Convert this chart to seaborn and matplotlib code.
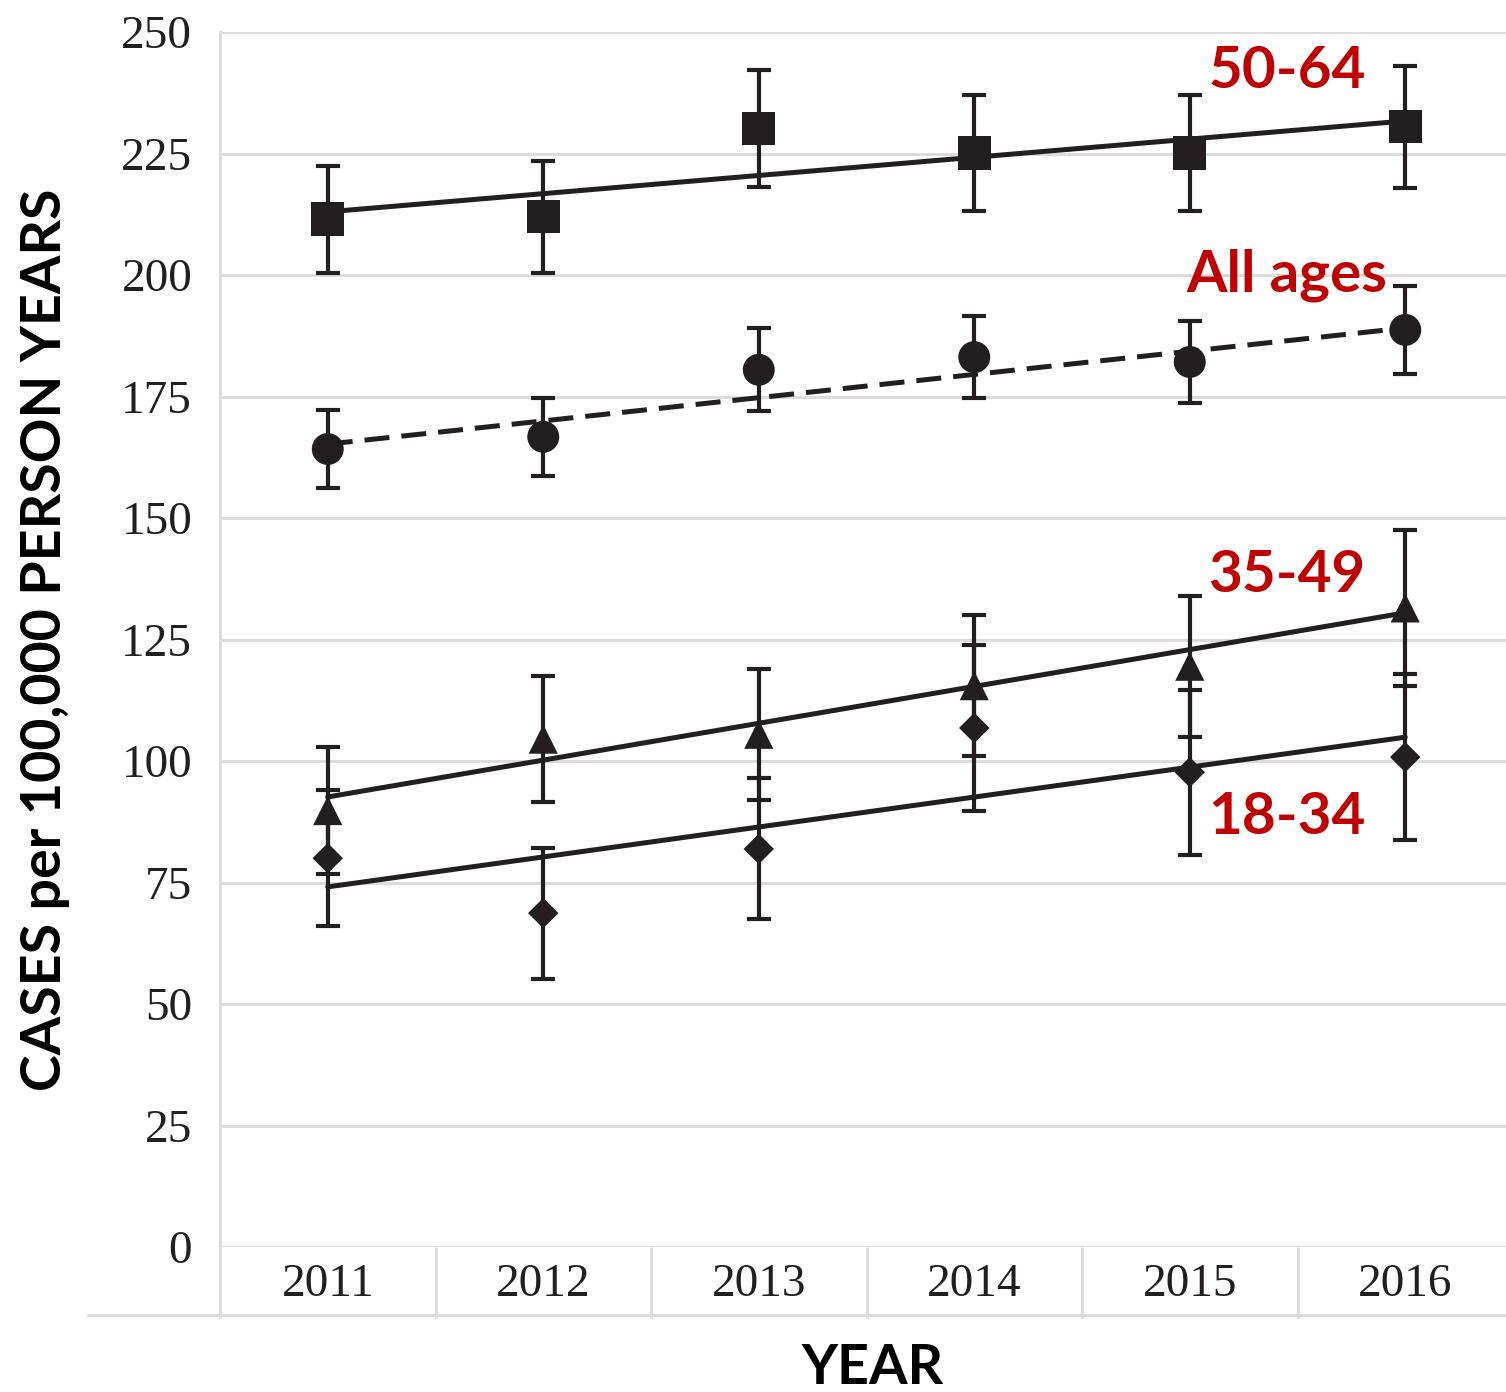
import numpy as np
import pandas as pd
import seaborn as sns
import matplotlib.pyplot as plt
from matplotlib import font_manager

years = [2011, 2012, 2013, 2014, 2015, 2016]

# observed rates and error half-widths (cases per 100,000 person years)
age_50_64 = [211.5, 212.0, 230.2, 225.1, 225.1, 230.5]
err_50_64 = [11.0, 11.5, 12.0, 12.0, 12.0, 12.5]
all_ages = [164.2, 166.7, 180.5, 183.1, 182.1, 188.7]
err_all = [8.0, 8.0, 8.5, 8.5, 8.5, 9.0]
age_35_49 = [89.8, 104.5, 105.5, 115.5, 119.5, 131.5]
err_35_49 = [13.0, 13.0, 13.5, 14.5, 14.5, 16.0]
age_18_34 = [80.0, 68.7, 81.9, 106.8, 97.7, 100.8]
err_18_34 = [14.0, 13.5, 14.5, 17.0, 17.0, 17.0]

# linear trend values at first and last year
trend_years = [2011, 2016]
trend_50_64 = [213.0, 231.7]
trend_all = [165.2, 189.1]
trend_35_49 = [92.6, 130.5]
trend_18_34 = [74.1, 104.9]

groups = ['50-64', 'All ages', '35-49', '18-34']
values = [age_50_64, all_ages, age_35_49, age_18_34]
errors = [err_50_64, err_all, err_35_49, err_18_34]
trends = [trend_50_64, trend_all, trend_35_49, trend_18_34]

ink = '#231f20'
red = '#c00000'
grid_col = '#dcdcdc'

sns.set_theme(style='white')
plt.rcParams['font.family'] = ['Liberation Serif', 'DejaVu Serif']

df = pd.DataFrame({
    'year': np.tile(years, len(groups)),
    'rate': np.concatenate(values),
    'err': np.concatenate(errors),
    'group': np.repeat(groups, len(years)),
})
trend_df = pd.DataFrame({
    'year': np.tile(trend_years, len(groups)),
    'rate': np.concatenate(trends),
    'group': np.repeat(groups, len(trend_years)),
})

fig = plt.figure(figsize=(15.06, 13.92), dpi=100)
W, H = 1506, 1392
ax = fig.add_axes([220 / W, (H - 1247) / H, 1286 / W, 1215 / H])

# trend lines
for g in groups:
    ls = (0, (5, 2.4)) if g == 'All ages' else '-'
    sns.lineplot(data=trend_df[trend_df.group == g], x='year', y='rate',
                 color=ink, linewidth=3.6, linestyle=ls, ax=ax, zorder=3)

# error bars
ax.errorbar(df.year, df.rate, yerr=df.err, fmt='none', ecolor=ink,
            elinewidth=3, capsize=8.5, capthick=3, zorder=4)

# markers
markers = {'50-64': 's', 'All ages': 'o', '35-49': '^', '18-34': 'D'}
sizes = {'50-64': 24 ** 2, 'All ages': 23 ** 2, '35-49': 21 ** 2, '18-34': 15.5 ** 2}
sns.scatterplot(data=df, x='year', y='rate', style='group', markers=markers,
                size='group', sizes=sizes, color=ink, edgecolor='none',
                linewidth=0, legend=False, ax=ax, zorder=5)

ax.set_xlim(2010.5, 2010.5 + 1286 / 215.5)
ax.set_ylim(0, 250)
ax.set_yticks(np.arange(0, 251, 25))
ax.set_xticks(years)
ax.set_xticklabels([str(y) for y in years])
ax.tick_params(axis='y', length=0, pad=20, labelsize=34, labelcolor=ink)
ax.tick_params(axis='x', length=0, pad=12, labelsize=34, labelcolor=ink)
ax.grid(axis='y', color=grid_col, linewidth=2.2)
ax.set_axisbelow(True)
for s in ['top', 'right', 'bottom']:
    ax.spines[s].set_visible(False)
ax.spines['left'].set_color(grid_col)
ax.spines['left'].set_linewidth(2.2)
ax.set_xlabel('')
ax.set_ylabel('')

# category band below the plot
band = 71 / 1215
ax.vlines(np.arange(2010.5, 2016, 1.0), -band, 0, color=grid_col, linewidth=2.2,
          transform=ax.get_xaxis_transform(), clip_on=False)
ax.plot([-132 / 1286, 1.0], [-68 / 1215, -68 / 1215], color=grid_col, linewidth=2.2,
        transform=ax.transAxes, clip_on=False)

sans = ['Lato', 'DejaVu Sans']
installed = {f.name for f in font_manager.fontManager.ttflist}
if 'Liberation Sans Narrow' in installed:
    ylab_family, ylab_size = ['Liberation Sans Narrow', 'DejaVu Sans'], 44
else:
    ylab_family, ylab_size = sans, 40
ax.text(-0.136, 0.5, 'CASES per 100,000 PERSON YEARS', transform=ax.transAxes,
        rotation=90, ha='center', va='center', fontsize=ylab_size, fontweight='bold',
        family=ylab_family, color='black')
fig.text(872 / W, 1 - 1368 / H, 'YEAR', ha='center', va='center', fontsize=40,
         fontweight='bold', family=sans, color='black')

labels = {'50-64': (1287, 72), 'All ages': (1287, 275), '35-49': (1287, 576), '18-34': (1287, 818)}
for g, (px, py) in labels.items():
    fig.text(px / W, 1 - py / H, g, ha='center', va='center', fontsize=42,
             fontweight='bold', family=sans, color=red)

fig.savefig('out.png', dpi=100)
